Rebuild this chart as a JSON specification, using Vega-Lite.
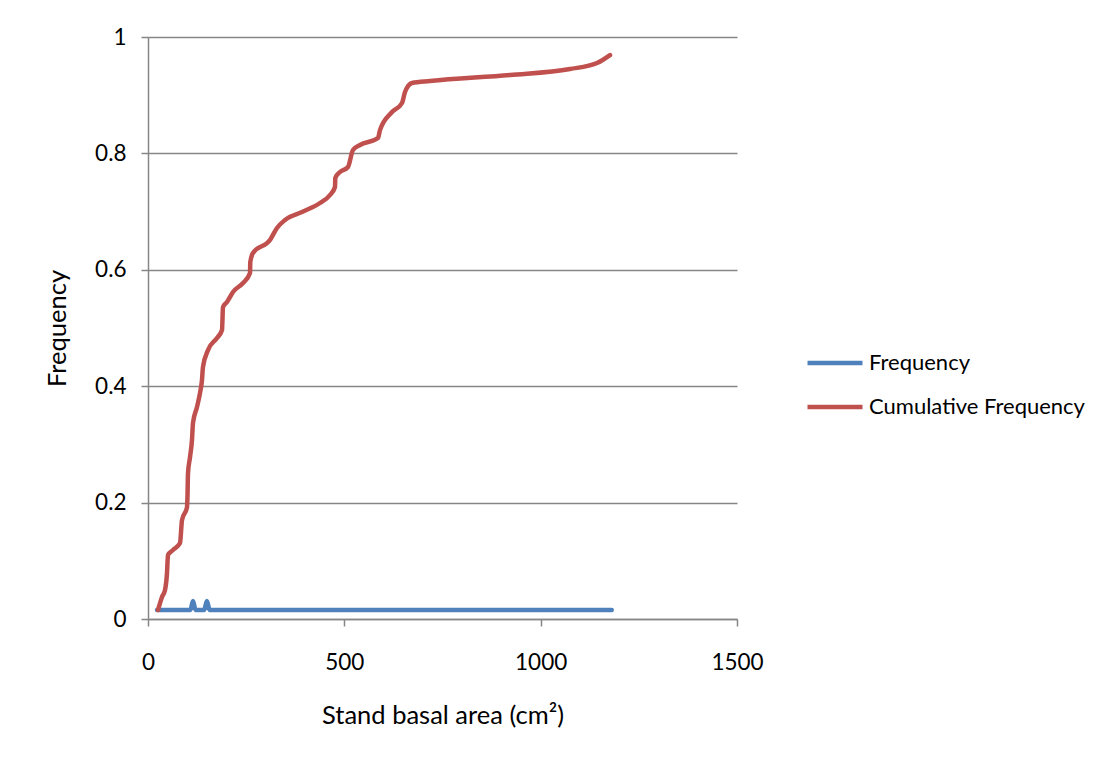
{
  "$schema": "https://vega.github.io/schema/vega-lite/v6.json",
  "width": 589,
  "height": 582,
  "autosize": {"type": "none"},
  "padding": {"left": 148, "top": 37, "right": 369, "bottom": 138},
  "background": "white",
  "data": {
    "values": [
      {"series": "Frequency", "x": 23, "y": 0.0156},
      {"series": "Frequency", "x": 108, "y": 0.0156},
      {"series": "Frequency", "x": 114.6, "y": 0.031},
      {"series": "Frequency", "x": 121, "y": 0.0156},
      {"series": "Frequency", "x": 143, "y": 0.0156},
      {"series": "Frequency", "x": 150, "y": 0.031},
      {"series": "Frequency", "x": 157, "y": 0.0156},
      {"series": "Frequency", "x": 600, "y": 0.0156},
      {"series": "Frequency", "x": 1181, "y": 0.0156},
      {"series": "Cumulative Frequency", "x": 25.5, "y": 0.0155},
      {"series": "Cumulative Frequency", "x": 35.7, "y": 0.0378},
      {"series": "Cumulative Frequency", "x": 43.3, "y": 0.0498},
      {"series": "Cumulative Frequency", "x": 48.4, "y": 0.079},
      {"series": "Cumulative Frequency", "x": 50.9, "y": 0.110},
      {"series": "Cumulative Frequency", "x": 63.7, "y": 0.1186},
      {"series": "Cumulative Frequency", "x": 81.5, "y": 0.1306},
      {"series": "Cumulative Frequency", "x": 86.6, "y": 0.170},
      {"series": "Cumulative Frequency", "x": 99.3, "y": 0.192},
      {"series": "Cumulative Frequency", "x": 100.5, "y": 0.2096},
      {"series": "Cumulative Frequency", "x": 101.9, "y": 0.251},
      {"series": "Cumulative Frequency", "x": 107, "y": 0.278},
      {"series": "Cumulative Frequency", "x": 112, "y": 0.3076},
      {"series": "Cumulative Frequency", "x": 114.6, "y": 0.3368},
      {"series": "Cumulative Frequency", "x": 124.8, "y": 0.3643},
      {"series": "Cumulative Frequency", "x": 132.4, "y": 0.388},
      {"series": "Cumulative Frequency", "x": 137.5, "y": 0.4107},
      {"series": "Cumulative Frequency", "x": 140, "y": 0.433},
      {"series": "Cumulative Frequency", "x": 152.8, "y": 0.462},
      {"series": "Cumulative Frequency", "x": 175.7, "y": 0.4828},
      {"series": "Cumulative Frequency", "x": 188.5, "y": 0.4966},
      {"series": "Cumulative Frequency", "x": 191, "y": 0.536},
      {"series": "Cumulative Frequency", "x": 201.2, "y": 0.5447},
      {"series": "Cumulative Frequency", "x": 216.5, "y": 0.5619},
      {"series": "Cumulative Frequency", "x": 241.9, "y": 0.5773},
      {"series": "Cumulative Frequency", "x": 259.8, "y": 0.5945},
      {"series": "Cumulative Frequency", "x": 260.5, "y": 0.6134},
      {"series": "Cumulative Frequency", "x": 267.4, "y": 0.6289},
      {"series": "Cumulative Frequency", "x": 310.7, "y": 0.6512},
      {"series": "Cumulative Frequency", "x": 328.5, "y": 0.6718},
      {"series": "Cumulative Frequency", "x": 348.9, "y": 0.6856},
      {"series": "Cumulative Frequency", "x": 392.2, "y": 0.6993},
      {"series": "Cumulative Frequency", "x": 438, "y": 0.7148},
      {"series": "Cumulative Frequency", "x": 463.5, "y": 0.7285},
      {"series": "Cumulative Frequency", "x": 476.2, "y": 0.7423},
      {"series": "Cumulative Frequency", "x": 477, "y": 0.7577},
      {"series": "Cumulative Frequency", "x": 489, "y": 0.768},
      {"series": "Cumulative Frequency", "x": 509.3, "y": 0.7766},
      {"series": "Cumulative Frequency", "x": 522, "y": 0.8058},
      {"series": "Cumulative Frequency", "x": 539.9, "y": 0.8144},
      {"series": "Cumulative Frequency", "x": 585.7, "y": 0.8265},
      {"series": "Cumulative Frequency", "x": 590.8, "y": 0.840},
      {"series": "Cumulative Frequency", "x": 621.4, "y": 0.871},
      {"series": "Cumulative Frequency", "x": 646.9, "y": 0.8866},
      {"series": "Cumulative Frequency", "x": 654.5, "y": 0.9055},
      {"series": "Cumulative Frequency", "x": 672.3, "y": 0.921},
      {"series": "Cumulative Frequency", "x": 718.2, "y": 0.9244},
      {"series": "Cumulative Frequency", "x": 921.9, "y": 0.9347},
      {"series": "Cumulative Frequency", "x": 1074.7, "y": 0.945},
      {"series": "Cumulative Frequency", "x": 1143.5, "y": 0.9553},
      {"series": "Cumulative Frequency", "x": 1176.6, "y": 0.969}
    ]
  },
  "mark": {"type": "line", "interpolate": "monotone", "strokeWidth": 4.5, "strokeCap": "round", "strokeJoin": "round"},
  "encoding": {
    "x": {
      "field": "x",
      "type": "quantitative",
      "scale": {"domain": [0, 1500], "nice": false},
      "axis": {
        "values": [0, 500, 1000, 1500],
        "format": "d",
        "grid": false,
        "labelFlush": false,
        "title": "Stand basal area (cm²)",
        "labelPadding": 25,
        "titlePadding": 30
      }
    },
    "y": {
      "field": "y",
      "type": "quantitative",
      "scale": {"domain": [0, 1], "nice": false},
      "axis": {
        "values": [0, 0.2, 0.4, 0.6, 0.8, 1],
        "format": ".1~f",
        "grid": true,
        "title": "Frequency",
        "labelPadding": 15,
        "titlePadding": 24
      }
    },
    "color": {
      "field": "series",
      "type": "nominal",
      "scale": {"domain": ["Frequency", "Cumulative Frequency"], "range": ["#4F81BD", "#C0504D"]},
      "legend": {
        "title": null,
        "orient": "none",
        "legendX": 657,
        "legendY": 296,
        "symbolType": "stroke",
        "symbolSize": 3025,
        "symbolStrokeWidth": 4.5,
        "labelOffset": 4,
        "labelFontSize": 22,
        "labelFont": "Lato",
        "labelColor": "#000000",
        "labelLimit": 0,
        "rowPadding": 3
      }
    },
    "order": {"field": "x", "type": "quantitative"}
  },
  "config": {
    "view": {"stroke": null},
    "axis": {
      "labelFont": "Lato",
      "titleFont": "Lato",
      "labelFontSize": 22.5,
      "titleFontSize": 25.5,
      "titleFontWeight": "normal",
      "labelColor": "#000000",
      "titleColor": "#000000",
      "domainColor": "#868686",
      "domainWidth": 1.5,
      "tickColor": "#868686",
      "tickWidth": 1.5,
      "tickSize": 7,
      "gridColor": "#868686",
      "gridWidth": 1.5
    }
  }
}
